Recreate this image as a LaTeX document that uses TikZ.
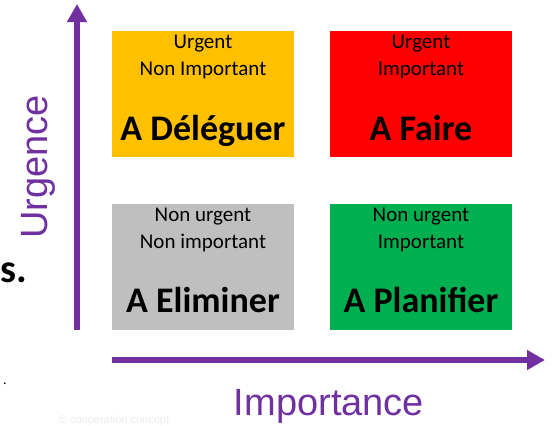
\documentclass[tikz,border=0pt]{standalone}
\usepackage{fontspec}
\setmainfont{Carlito}
\newfontfamily\arialfont{Liberation Sans}
\usetikzlibrary{arrows.meta}
\definecolor{qorange}{HTML}{FFC000}
\definecolor{qred}{HTML}{FF0000}
\definecolor{qgray}{HTML}{BFBFBF}
\definecolor{qgreen}{HTML}{00B050}
\definecolor{axpurple}{HTML}{7030A0}
\tikzset{
  quad/.style={draw=none, minimum width=182pt, minimum height=126pt, inner sep=0pt, anchor=north west},
  small/.style={font=\fontsize{21}{25}\selectfont, anchor=base, inner sep=0pt},
  big/.style={font=\fontsize{36}{40}\selectfont\bfseries, anchor=base, inner sep=0pt},
  axis/.style={draw=axpurple, line width=6pt, -{Triangle[length=18pt,width=19pt]}},
  axlabel/.style={font=\arialfont\fontsize{38}{40}\selectfont, text=axpurple, anchor=base, inner sep=0pt}
}
\begin{document}
\begin{tikzpicture}[x=1pt,y=-1pt]
\useasboundingbox (0,0) rectangle (552,426);
% quadrants
\node[quad, fill=qorange] (q1) at (112,31) {};
\node[quad, fill=qred] (q2) at (330,31) {};
\node[quad, fill=qgray] (q3) at (112,204) {};
\node[quad, fill=qgreen] (q4) at (330,204) {};
% texts orange
\node[small] (t1a) at (203,48) {Urgent};
\node[small] (t1b) at (203,75) {Non Important};
\node[big] (t1c) at (203,140) {A Déléguer};
% red
\node[small] (t2a) at (421,48) {Urgent};
\node[small] (t2b) at (421,75) {Important};
\node[big] (t2c) at (421,140) {A Faire};
% gray
\node[small] (t3a) at (203,221) {Non urgent};
\node[small] (t3b) at (203,248) {Non important};
\node[big] (t3c) at (203,312) {A Eliminer};
% green
\node[small] (t4a) at (421,221) {Non urgent};
\node[small] (t4b) at (421,248) {Important};
\node[big] (t4c) at (421,312) {A Planifier};
% axes
\coordinate (vstart) at (77,330);
\coordinate (vend) at (77,4);
\coordinate (hstart) at (112,360);
\coordinate (hend) at (545,360);
\draw[axis] (vstart) -- (vend);
\draw[axis] (hstart) -- (hend);
\node[axlabel, rotate=90] (ylab) at (47,167) {Urgence};
\node[axlabel] (xlab) at (329,415) {Importance};
% stray fragments
\node[font=\fontsize{40}{40}\selectfont\bfseries, anchor=base west, inner sep=0pt] (frag) at (0,282) {s.};
\node[font=\fontsize{14}{14}\selectfont, anchor=base, inner sep=0pt] (dot) at (5,384) {.};
\node[font=\arialfont\fontsize{11}{11}\selectfont, text=black!8, anchor=base, inner sep=0pt] (wm) at (114,423) {© cooperation concept};
\end{tikzpicture}
\end{document}
